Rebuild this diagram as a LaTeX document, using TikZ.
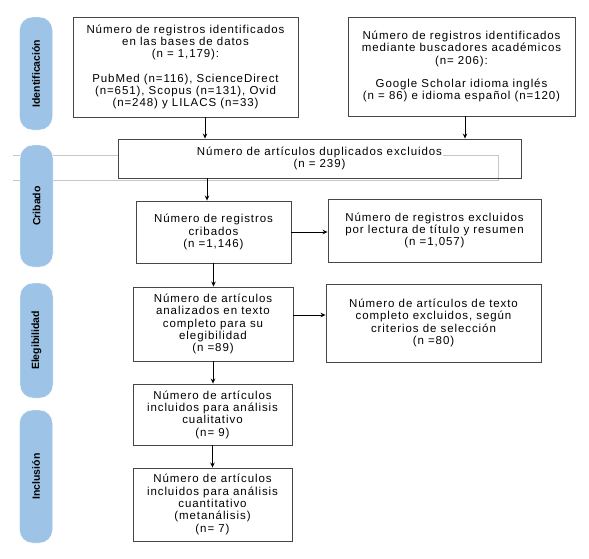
\documentclass[tikz,border=0pt]{standalone}
\usepackage{fontspec}
\setmainfont{Liberation Sans}
\newfontfamily\boxfont[LetterSpace=8]{Liberation Sans}
\usetikzlibrary{arrows.meta}

\definecolor{pillblue}{RGB}{157,195,230}
\definecolor{boxgray}{RGB}{70,70,70}

\begin{document}
\begin{tikzpicture}[x=1pt,y=-1pt]
    \useasboundingbox (0,0) rectangle (589,558);

    % thin grey frame behind the duplicates box
    \draw[gray!45, line width=0.6pt] (13,155) -- (118,155);
    \draw[gray!45, line width=0.6pt] (13,180) -- (498,180) -- (498,155) -- (443,155);

    \begin{scope}[every node/.style={fill=pillblue,draw=white,rounded corners=13pt,
        minimum width=33pt,inner sep=0pt,font=\fontsize{10.5}{12}\selectfont\bfseries}]
      \node (ident) at (36,73.5) [minimum height=113pt] {\rotatebox{90}{Identificación}};
      \node (cribado) at (36.5,206) [minimum height=122pt] {\rotatebox{90}{Cribado}};
      \node (elegib) at (36.5,340.5) [minimum height=115pt] {\rotatebox{90}{Elegibilidad}};
      \node (inclus) at (36,476.5) [minimum height=133pt] {\rotatebox{90}{Inclusión}};
    \end{scope}

    \begin{scope}[every node/.style={draw=boxgray,line width=0.9pt,align=center,
        inner sep=2pt,font=\boxfont\fontsize{11.5}{12.3}\selectfont}]
      \node (idbd) at (185.5,67) [minimum width=225pt,minimum height=100pt]
        {Número de registros identificados\\ en las bases de datos\\ (n = 1,179):\\[12pt]
         PubMed (n=116), ScienceDirect\\ (n=651), Scopus (n=131), Ovid\\ (n=248) y LILACS (n=33)};
      \node (idgs) at (461.5,66.5) [minimum width=227pt,minimum height=99pt]
        {Número de registros identificados\\ mediante buscadores académicos\\ (n= 206):\\[11pt]
         Google Scholar idioma inglés\\ (n = 86) e idioma español (n=120)};
      \node (dup) at (319.5,158.5) [minimum width=403pt,minimum height=39pt]
        {Número de artículos duplicados excluidos\\ (n = 239)};
      \node (crib) at (213.5,232) [minimum width=155pt,minimum height=62pt]
        {Número de registros\\ cribados\\ (n =1,146)};
      \node (excl1) at (434.5,230.5) [minimum width=213pt,minimum height=63pt]
        {Número de registros excluidos\\ por lectura de título y resumen\\ (n =1,057)};
      \node (anal) at (213,324) [minimum width=160pt,minimum height=74pt]
        {Número de artículos\\ analizados en texto\\ completo para su\\ elegibilidad\\ (n =89)};
      \node (excl2) at (433.5,323) [minimum width=215pt,minimum height=78pt]
        {Número de artículos de texto\\ completo excluidos, según\\ criterios de selección\\ (n =80)};
      \node (cual) at (212.5,414.5) [minimum width=159pt,minimum height=61pt]
        {Número de artículos\\ incluidos para análisis\\ cualitativo\\ (n= 9)};
      \node (cuan) at (212.5,504.5) [minimum width=159pt,minimum height=73pt]
        {Número de artículos\\ incluidos para análisis\\ cuantitativo\\ (metanálisis)\\ (n= 7)};
    \end{scope}

    \begin{scope}[>={Stealth[black,length=5pt,width=4.5pt]},
        every edge/.style={draw=black,line width=1pt}]
      \coordinate (a1) at ([xshift=19.5pt]idbd.south);
      \coordinate (a2) at ([xshift=3.5pt]idgs.south);
      \coordinate (a3) at ([xshift=-6.5pt]crib.north);
      \coordinate (a4) at ([yshift=9pt]anal.east);
      \path [->] (a1) edge (a1 |- dup.north);
      \path [->] (a2) edge (a2 |- dup.north);
      \path [->] (a3 |- dup.south) edge (a3);
      \path [->] (crib.south) edge (crib.south |- anal.north);
      \path [->] (crib.east) edge (crib.east -| excl1.west);
      \path [->] (a4) edge (a4 -| excl2.west);
      \path [->] (anal.south) edge (anal.south |- cual.north);
      \path [->] (cual.south) edge (cual.south |- cuan.north);
    \end{scope}
\end{tikzpicture}
\end{document}
